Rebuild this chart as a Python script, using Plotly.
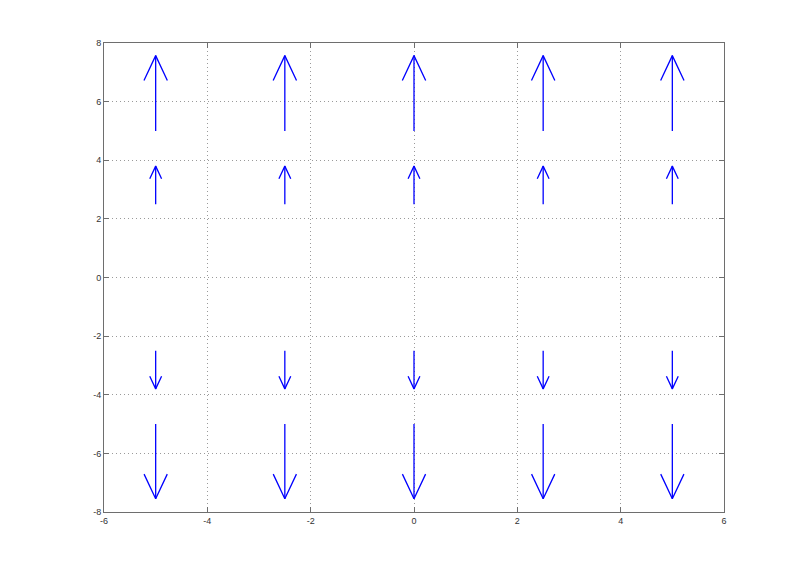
import plotly.graph_objects as go

# Arrow grid (quiver) data
x_pos = [-5, -2.5, 0, 2.5, 5]
y_pos = [5, 2.5, -2.5, -5]
u_vals = [0, 0, 0, 0]          # horizontal component per row
v_vals = [2.57, 1.3, -1.3, -2.55]  # vertical component per row (scaled)

x_ticks = [-6, -4, -2, 0, 2, 4, 6]
y_ticks = [-8, -6, -4, -2, 0, 2, 4, 6, 8]

head_len = 0.33   # fraction of arrow length along shaft
head_wid = 0.088  # fraction of arrow length across shaft

xs, ys = [], []
for yi, u, v in zip(y_pos, u_vals, v_vals):
    for xi in x_pos:
        hx, hy = xi + u, yi + v
        # shaft
        xs += [xi, hx, None]
        ys += [yi, hy, None]
        # barbs
        L = (u * u + v * v) ** 0.5
        ux, uy = u / L, v / L
        px, py = -uy, ux
        bx = hx - head_len * L * ux
        by = hy - head_len * L * uy
        xs += [bx + head_wid * L * px, hx, bx - head_wid * L * px, None]
        ys += [by + head_wid * L * py, hy, by - head_wid * L * py, None]

fig = go.Figure()
fig.add_trace(go.Scatter(x=xs, y=ys, mode="lines",
                         line=dict(color="#0000ff", width=1.3),
                         hoverinfo="skip", showlegend=False))

axis_common = dict(
    showgrid=True, gridcolor="#9a9a9a", griddash="1px,3px", gridwidth=1,
    zeroline=False, showline=True, linecolor="#6e6e6e", linewidth=1,
    mirror="ticks", ticks="inside", ticklen=5, tickcolor="#6e6e6e",
    tickfont=dict(family="Liberation Sans, Arial, sans-serif", size=9, color="#333333"),
)

fig.update_xaxes(range=[-6, 6], tickvals=x_ticks, ticktext=[str(t) for t in x_ticks], **axis_common)
fig.update_yaxes(range=[-8, 8], tickvals=y_ticks, ticktext=[str(t) for t in y_ticks], **axis_common)

fig.update_layout(
    width=800, height=575,
    margin=dict(l=96, r=84, t=35, b=71),
    plot_bgcolor="white", paper_bgcolor="white",
)

fig.write_html("out.html")
